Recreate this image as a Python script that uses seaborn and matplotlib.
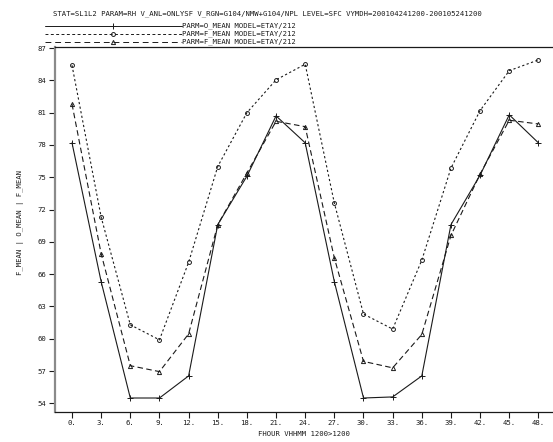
import numpy as np
import pandas as pd
import matplotlib
matplotlib.use("Agg")
import matplotlib.pyplot as plt
from matplotlib.lines import Line2D
import seaborn as sns

sns.set_style("white")
plt.rcParams['font.family'] = ['DejaVu Sans Mono']

# forecast hours
fhour = [0, 3, 6, 9, 12, 15, 18, 21, 24, 27, 30, 33, 36, 39, 42, 45, 48]
# PARM=O_MEAN (solid, +)
o_mean = [78.2, 65.3, 54.5, 54.5, 56.55, 70.6, 75.1, 80.7, 78.2,
          65.3, 54.5, 54.6, 56.55, 70.6, 75.2, 80.8, 78.2]
# PARM=F_MEAN (dotted, circles)
f_mean_1 = [85.4, 71.3, 61.3, 59.9, 67.1, 76.0, 81.0, 84.05, 85.5,
            72.6, 62.3, 60.9, 67.3, 75.85, 81.2, 84.9, 85.9]
# PARM=F_MEAN (dashed, triangles)
f_mean_2 = [81.8, 67.9, 57.5, 56.95, 60.45, 70.6, 75.4, 80.2, 79.7,
            67.5, 57.9, 57.3, 60.4, 69.6, 75.3, 80.3, 79.95]

yticks = [54, 57, 60, 63, 66, 69, 72, 75, 78, 81, 84, 87]
legend_labels = ["PARM=O_MEAN MODEL=ETAY/212",
                 "PARM=F_MEAN MODEL=ETAY/212",
                 "PARM=F_MEAN MODEL=ETAY/212"]
title = ("STAT=SL1L2 PARAM=RH V_ANL=ONLYSF V_RGN=G104/NMW+G104/NPL "
         "LEVEL=SFC VYMDH=200104241200-200105241200")

FS = 5.2
INK = "#1a1a1a"

W, H = 553, 442
fig = plt.figure(figsize=(W / 100, H / 100), dpi=100)
ax = fig.add_axes([55 / W, 1 - 412 / H, 497 / W, 365 / H])

series = [
    (o_mean,   "-",          "+", 4.5),
    (f_mean_1, (0, (2, 2.2)), "o", 2.8),
    (f_mean_2, (0, (5, 3)),  "^", 3.0),
]
for vals, ls, mk, ms in series:
    df = pd.DataFrame({"fhour": fhour, "val": vals})
    sns.lineplot(data=df, x="fhour", y="val", ax=ax, color=INK,
                 linestyle=ls, linewidth=0.8, marker=mk, markersize=ms,
                 markerfacecolor="none", markeredgecolor=INK,
                 markeredgewidth=0.7)

ax.set_xlim(-1.75, 49.4)
ax.set_ylim(53.2, 87.1)
ax.set_xticks(fhour)
ax.set_xticklabels([f"{h}." for h in fhour])
ax.set_yticks(yticks)
ax.set_yticklabels([str(v) for v in yticks])
ax.tick_params(axis="both", direction="out", length=4, width=0.8,
               labelsize=FS, colors=INK, pad=2, bottom=True, left=True)
ax.set_xlabel("FHOUR VHHMM 1200>1200", fontsize=FS, color=INK)
ax.set_ylabel("F_MEAN | O_MEAN | F_MEAN", fontsize=FS, color=INK)
ax.xaxis.set_label_coords(0.5, -0.052)
ax.yaxis.set_label_coords(-0.063, 0.52)

ax.spines["left"].set_color("#8a8a8a")
ax.spines["left"].set_linewidth(1.6)
ax.spines["bottom"].set_color(INK)
ax.spines["bottom"].set_linewidth(0.9)
ax.spines["top"].set_color(INK)
ax.spines["top"].set_linewidth(0.9)
ax.spines["right"].set_visible(False)

# header title
fig.text(53 / W, 1 - 14 / H, title, fontsize=FS, color=INK,
         ha="left", va="center")

# hand-drawn legend block in the header
leg_styles = [("-", "+", 4.5), ((0, (3, 2.5)), "o", 2.8),
              ((0, (6, 4)), "^", 3.0)]
for i, (lab, (ls, mk, ms)) in enumerate(zip(legend_labels, leg_styles)):
    y = 1 - (26 + 8 * i) / H
    fig.add_artist(Line2D([45 / W, 182 / W], [y, y], transform=fig.transFigure,
                          color=INK, linestyle=ls, linewidth=0.7))
    fig.add_artist(Line2D([113 / W], [y], transform=fig.transFigure,
                          color=INK, marker=mk, markersize=ms,
                          markerfacecolor="none", markeredgewidth=0.7,
                          linestyle="none"))
    fig.text(182 / W, y, lab, fontsize=FS, color=INK, ha="left", va="center")

fig.savefig("out.png", dpi=100)
